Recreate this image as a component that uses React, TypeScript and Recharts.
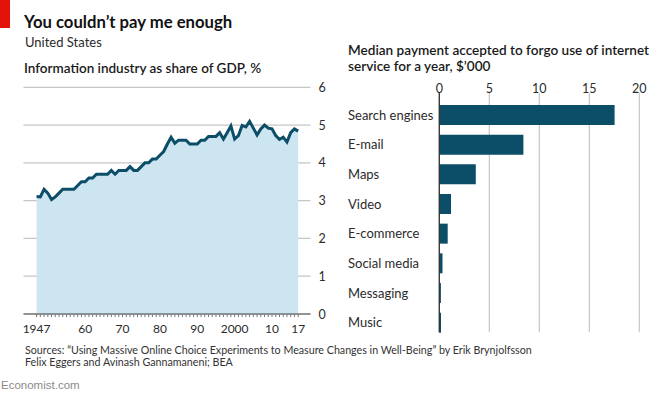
import React from 'react';
import { ComposedChart, Area, BarChart, Bar, XAxis, YAxis, CartesianGrid } from 'recharts';

// Information industry as share of GDP, %
const years = [
  1947, 1948, 1949, 1950, 1951, 1952, 1953, 1954, 1955, 1956,
  1957, 1958, 1959, 1960, 1961, 1962, 1963, 1964, 1965, 1966,
  1967, 1968, 1969, 1970, 1971, 1972, 1973, 1974, 1975, 1976,
  1977, 1978, 1979, 1980, 1981, 1982, 1983, 1984, 1985, 1986,
  1987, 1988, 1989, 1990, 1991, 1992, 1993, 1994, 1995, 1996,
  1997, 1998, 1999, 2000, 2001, 2002, 2003, 2004, 2005, 2006,
  2007, 2008, 2009, 2010, 2011, 2012, 2013, 2014, 2015, 2016, 2017,
];
const gdpShare = [
  3.11, 3.1, 3.3, 3.2, 3.03, 3.1, 3.2, 3.3, 3.3, 3.3,
  3.3, 3.4, 3.5, 3.5, 3.6, 3.6, 3.7, 3.7, 3.7, 3.7,
  3.8, 3.7, 3.8, 3.8, 3.8, 3.9, 3.8, 3.8, 3.9, 4.0,
  4.0, 4.1, 4.1, 4.2, 4.3, 4.5, 4.68, 4.52, 4.6, 4.6,
  4.6, 4.5, 4.5, 4.5, 4.6, 4.6, 4.7, 4.7, 4.7, 4.8,
  4.63, 4.8, 4.98, 4.63, 4.72, 4.99, 4.95, 5.1, 4.92, 4.74,
  4.9, 5.0, 4.92, 4.9, 4.72, 4.62, 4.68, 4.55, 4.8, 4.9, 4.84,
];
const labelledYears = [1947, 1960, 1970, 1980, 1990, 2000, 2010, 2017];
const yearLabels = ['1947', '60', '70', '80', '90', '2000', '10', '17'];
const shareTicks = [0, 1, 2, 3, 4, 5, 6];

// Median payment accepted to forgo use, $'000
const services = ['Search engines', 'E-mail', 'Maps', 'Video', 'E-commerce', 'Social media', 'Messaging', 'Music'];
const payments = [17.53, 8.41, 3.65, 1.17, 0.84, 0.32, 0.16, 0.17];
const paymentTicks = [0, 5, 10, 15, 20];

const FONT = "Lato, 'Noto Sans', sans-serif";
const DARK = '#0c4d67';
const FILL = '#cde4f1';
const GRID = '#c6c6c6';
const TEXT = '#2b2b2b';

const shareData = years.map((year, i) => ({ year, share: gdpShare[i] }));
const paymentData = services.map((name, i) => ({ name, value: payments[i] }));

const YearTick = (props: any) => {
  const { x, y, payload } = props;
  const idx = labelledYears.indexOf(payload.value);
  return (
    <g>
      <line x1={x} x2={x} y1={y} y2={y + 3} stroke="#777" strokeWidth={1} />
      {idx >= 0 && (
        <text x={x} y={y + 14} textAnchor="middle" dominantBaseline="central" fontFamily={FONT} fontSize={12} fill={TEXT}>
          {yearLabels[idx]}
        </text>
      )}
    </g>
  );
};

const ShareTick = (props: any) => {
  const { x, y, payload } = props;
  return (
    <text x={x} y={y} textAnchor="start" dominantBaseline="central" fontFamily={FONT} fontSize={12.5} fill={TEXT}>
      {payload.value}
    </text>
  );
};

const PaymentTick = (props: any) => {
  const { x, y, payload } = props;
  return (
    <text x={x} y={y - 5} textAnchor="middle" dominantBaseline="central" fontFamily={FONT} fontSize={12.5} fill={TEXT}>
      {payload.value}
    </text>
  );
};

const ServiceTick = (props: any) => {
  const { y, payload } = props;
  return (
    <text x={18} y={y} textAnchor="start" dominantBaseline="central" fontFamily={FONT} fontSize={13} fill={TEXT}>
      {payload.value}
    </text>
  );
};

const abs = (left: number, top: number, extra: React.CSSProperties = {}): React.CSSProperties => ({
  position: 'absolute',
  left,
  top,
  fontFamily: FONT,
  color: TEXT,
  whiteSpace: 'nowrap',
  ...extra,
});

export default function App() {
  return (
    <div style={{ position: 'relative', width: 668, height: 395, background: '#fff', overflow: 'hidden' }}>
      <style>{'body{margin:0}'}</style>
      <div style={{ position: 'absolute', left: 0, top: 0, width: 10, height: 28, background: '#e3120b' }} />

      <div style={abs(24, 14.1, { fontSize: 16.7, lineHeight: '16.7px', fontWeight: 700, color: '#111' })}>
        You couldn’t pay me enough
      </div>
      <div style={abs(25, 36.2, { fontSize: 13, lineHeight: '13px' })}>United States</div>
      <div style={abs(24, 62, { fontSize: 13.5, lineHeight: '13.5px', fontWeight: 600, color: '#1a1a1a' })}>
        Information industry as share of GDP, %
      </div>
      <div style={abs(348, 42.9, { fontSize: 13.6, lineHeight: '15.7px', fontWeight: 600, color: '#1a1a1a' })}>
        Median payment accepted to forgo use of internet
        <br />
        service for a year, $’000
      </div>

      <div style={{ position: 'absolute', left: 0, top: 0 }}>
        <ComposedChart width={340} height={340} data={shareData} margin={{ top: 87.3, right: 0, bottom: 0, left: 23.5 }}>
          <CartesianGrid vertical={false} stroke={GRID} strokeWidth={1.2} />
          <XAxis
            dataKey="year"
            type="number"
            domain={[1943.5, 2020.3]}
            allowDataOverflow
            ticks={years}
            interval={0}
            height={26}
            tickSize={0}
            tickMargin={0}
            tickLine={false}
            axisLine={{ stroke: '#444', strokeWidth: 1.2 }}
            tick={YearTick}
          />
          <YAxis
            orientation="right"
            domain={[0, 6]}
            ticks={shareTicks}
            width={29.5}
            tickSize={0}
            tickMargin={8}
            tickLine={false}
            axisLine={false}
            tick={ShareTick}
          />
          <Area
            dataKey="share"
            type="linear"
            stroke={DARK}
            strokeWidth={3}
            fill={FILL}
            fillOpacity={1}
            isAnimationActive={false}
          />
        </ComposedChart>
      </div>

      <div style={{ position: 'absolute', left: 330, top: 0 }}>
        <BarChart
          width={338}
          height={340}
          data={paymentData}
          layout="vertical"
          margin={{ top: 73, right: 28.7, bottom: 7.7, left: 18 }}
        >
          <CartesianGrid horizontal={false} stroke={GRID} strokeWidth={1.2} />
          <XAxis
            type="number"
            orientation="top"
            domain={[0, 20]}
            ticks={paymentTicks}
            height={20}
            tickSize={0}
            tickMargin={0}
            tickLine={false}
            axisLine={false}
            tick={PaymentTick}
          />
          <YAxis
            type="category"
            dataKey="name"
            width={91.3}
            padding={{ top: 7, bottom: -5 }}
            tickLine={false}
            tickSize={0}
            axisLine={{ stroke: '#333', strokeWidth: 1.3 }}
            tick={ServiceTick}
          />
          <Bar dataKey="value" fill={DARK} barSize={20} isAnimationActive={false} />
        </BarChart>
      </div>

      <div style={abs(25, 344, { fontSize: 10.7, lineHeight: '12px', color: '#333' })}>
        Sources: “Using Massive Online Choice Experiments to Measure Changes in Well-Being” by Erik Brynjolfsson
        <br />
        Felix Eggers and Avinash Gannamaneni; BEA
      </div>
      <div style={abs(1, 380.3, { fontSize: 11.5, lineHeight: '11.5px', color: '#8a8a8a', fontFamily: "'Liberation Sans', Arial, sans-serif" })}>
        Economist.com
      </div>
    </div>
  );
}
